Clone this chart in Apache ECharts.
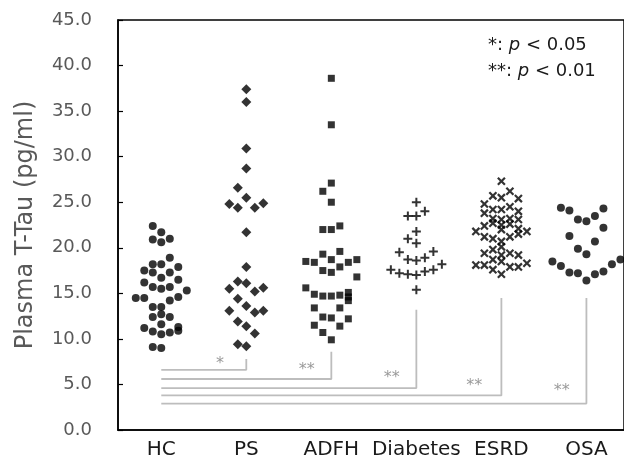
<!DOCTYPE html>
<html>
<head>
<meta charset="utf-8">
<script src="https://cdn.jsdelivr.net/npm/echarts@6/dist/echarts.min.js"></script>
<style>html,body{margin:0;padding:0;background:#fff;}#c{width:624px;height:464px;}</style>
</head>
<body>
<div id="c"></div>
<script>
const categories = ['HC', 'PS', 'ADFH', 'Diabetes', 'ESRD', 'OSA'];
const yTicks = [0, 5, 10, 15, 20, 25, 30, 35, 40, 45];

// values (pg/ml) and horizontal column slot of each dot (dot-plot layout)
const hcVals = [22.4,21.7,20.9,20.6,21.0,18.9,18.2,18.2,17.9,17.5,17.3,17.3,16.7,16.5,16.2,15.7,15.5,15.7,15.3,14.5,14.5,14.6,14.2,13.5,13.5,12.4,12.7,12.4,11.6,11.2,10.8,10.5,10.7,11.3,10.9,9.1,9.0];
const hcCols = [-1,0,-1,0,1,1,-1,0,2,-2,-1,1,0,2,-2,-1,0,1,3,-3,-2,2,1,-1,0,-1,0,1,0,-2,-1,0,1,2,2,-1,0];

const psVals = [37.4,36.0,30.9,28.7,26.6,25.5,24.8,24.4,24.4,24.9,21.7,17.9,16.3,16.1,15.5,15.2,15.6,14.4,13.6,13.1,12.9,13.1,11.9,11.4,10.6,9.4,9.2];
const psCols = [0,0,0,0,-1,0,-2,-1,1,2,0,0,-1,0,-2,1,2,-1,0,-2,1,2,-1,0,1,-1,0];

const adfhVals = [38.6,33.5,27.1,26.2,25.0,22.0,22.0,22.4,19.3,19.6,18.5,18.4,18.7,18.4,18.7,17.5,17.3,17.9,16.8,15.6,14.9,14.7,14.7,14.8,15.1,14.6,14.2,13.4,13.4,12.4,12.3,11.5,11.4,12.2,10.7,9.9];
const adfhCols = [0,0,0,-1,0,-1,0,1,-1,1,-3,-2,0,2,3,-1,0,1,3,-3,-2,-1,0,1,2,2,2,-2,1,-1,0,-2,1,2,-1,0];

const diabVals = [25.0,24.0,23.5,23.5,21.8,21.0,20.5,19.5,18.7,18.6,18.9,19.6,17.6,17.2,17.1,17.0,17.4,17.6,18.2,15.4];
const diabCols = [0,1,-1,0,0,-1,0,-2,-1,0,1,2,-3,-2,-1,0,1,2,3,0];

const esrdVals = [27.3,25.7,25.5,26.2,25.4,24.8,24.2,24.2,24.5,24.0,23.8,23.2,23.1,23.2,23.1,22.4,22.7,22.5,22.6,22.1,21.8,21.2,21.0,22.0,21.2,21.5,21.8,20.7,20.1,19.4,19.8,19.2,19.4,19.2,18.1,18.1,17.6,18.7,18.5,17.9,17.9,18.3,17.1];
const esrdCols = [0,-1,0,1,2,-2,-1,0,1,2,-2,-1,0,1,2,-2,-1,0,1,2,-3,-2,-1,0,1,2,3,0,0,-2,-1,0,1,2,-3,-2,-1,-1,0,1,2,3,0];

const osaVals = [24.4,24.1,23.1,22.9,23.5,24.3,22.2,21.3,20.7,19.9,19.3,18.5,18.0,17.3,17.2,16.4,17.1,17.4,18.2,18.7];
const osaCols = [-3,-2,-1,0,1,2,2,-2,1,-1,0,-4,-3,-2,-1,0,1,2,3,4];

// significance brackets (HC vs each group)
const bracketTo = [2, 3, 4, 5, 6];
const bracketLevel = [6.6, 5.6, 4.6, 3.8, 2.9];
const bracketTop = [7.8, 8.6, 13.2, 14.5, 14.5];
const bracketMark = ['*', '**', '**', '**', '**'];
const markX = [1.69, 2.71, 3.71, 4.68, 5.71];
const markY = [7.3, 6.6, 5.7, 4.8, 4.3];

const COL_STEP = 0.1;
const plusPath = 'path://M3.5,0H5.5V3.5H9V5.5H5.5V9H3.5V5.5H0V3.5H3.5Z';

const groups = [
  {vals: hcVals, cols: hcCols, symbol: 'circle', size: 8, rot: 0},
  {vals: psVals, cols: psCols, symbol: 'diamond', size: 10, rot: 0},
  {vals: adfhVals, cols: adfhCols, symbol: 'rect', size: 7, rot: 0},
  {vals: diabVals, cols: diabCols, symbol: plusPath, size: 9, rot: 0},
  {vals: esrdVals, cols: esrdCols, symbol: plusPath, size: 10, rot: 45},
  {vals: osaVals, cols: osaCols, symbol: 'circle', size: 8, rot: 0}
];

const series = [];
bracketTo.forEach((g, i) => {
  series.push({
    type: 'line', silent: true, symbol: 'none', z: 1,
    lineStyle: {color: '#bdbdbd', width: 1.8},
    data: [[1, bracketLevel[i]], [g, bracketLevel[i]], [g, bracketTop[i]]]
  });
});
series.push({
  type: 'scatter', silent: true, symbolSize: 0, z: 2,
  data: markX.map((x, i) => [x, markY[i]]),
  label: {show: true, position: 'inside', color: '#7f7f7f', fontSize: 16, fontFamily: 'DejaVu Sans',
    formatter: p => bracketMark[p.dataIndex]}
});
groups.forEach((gr, gi) => {
  series.push({
    type: 'scatter', name: categories[gi], z: 3,
    symbol: gr.symbol, symbolSize: gr.size, symbolRotate: gr.rot,
    itemStyle: {color: '#000'},
    data: gr.vals.map((v, i) => [gi + 1 + gr.cols[i] * COL_STEP, v])
  });
});

const chart = echarts.init(document.getElementById('c'), null, {renderer: 'canvas'});
chart.setOption({
  animation: false,
  backgroundColor: '#fff',
  grid: {left: 118, right: -5, top: 20, bottom: 34, show: true, borderColor: '#000', borderWidth: 1.5, backgroundColor: 'transparent'},
  xAxis: {
    type: 'value', min: 0.491, max: 6.442,
    axisLine: {show: true, lineStyle: {color: '#000', width: 1.5}},
    axisTick: {show: false},
    splitLine: {show: false},
    axisLabel: {
      customValues: [1, 2, 3, 4, 5, 6],
      formatter: v => categories[Math.round(v) - 1] || '',
      color: '#1a1a1a', fontSize: 20, fontFamily: 'DejaVu Sans', margin: 10
    }
  },
  yAxis: {
    type: 'value', min: 0, max: 45, interval: 5,
    name: 'Plasma T-Tau (pg/ml)', nameLocation: 'middle', nameGap: 80,
    nameTextStyle: {color: '#595959', fontSize: 24, fontFamily: 'DejaVu Sans'},
    axisLine: {show: true, lineStyle: {color: '#000', width: 1.5}},
    axisTick: {show: true, inside: true, length: 5, lineStyle: {color: '#000', width: 1.2},
      customValues: yTicks},
    splitLine: {show: false},
    axisLabel: {customValues: yTicks, formatter: v => v.toFixed(1), color: '#595959', fontSize: 18, fontFamily: 'DejaVu Sans', margin: 26}
  },
  graphic: [
    {type: 'text', left: 488, top: 36, style: {
      text: '{a|*: }{p|p}{a| < 0.05}',
      rich: {a: {fontSize: 18, fontFamily: 'DejaVu Sans', fill: '#1a1a1a'}, p: {fontSize: 18, fontFamily: 'DejaVu Sans', fontStyle: 'italic', fill: '#1a1a1a'}}
    }},
    {type: 'text', left: 488, top: 62, style: {
      text: '{a|**: }{p|p}{a| < 0.01}',
      rich: {a: {fontSize: 18, fontFamily: 'DejaVu Sans', fill: '#1a1a1a'}, p: {fontSize: 18, fontFamily: 'DejaVu Sans', fontStyle: 'italic', fill: '#1a1a1a'}}
    }}
  ],
  series: series
});
</script>
</body>
</html>
